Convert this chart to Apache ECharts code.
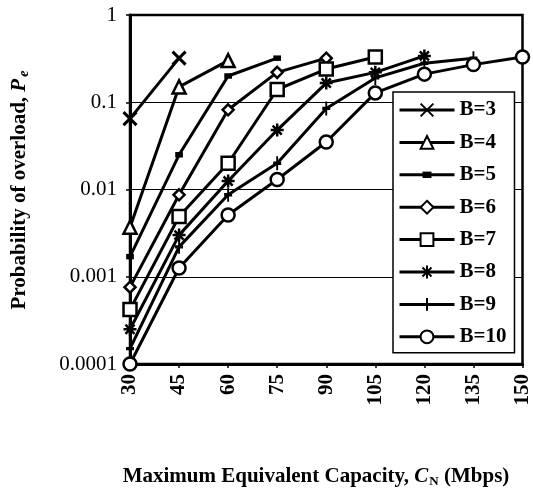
<!DOCTYPE html>
<html>
<head>
<meta charset="utf-8">
<script src="https://cdn.jsdelivr.net/npm/echarts@6/dist/echarts.min.js"></script>
<style>
html,body{margin:0;padding:0;background:#fff;}
#c{width:533px;height:489px;}
</style>
</head>
<body>
<div id="c"></div>
<script>
// Data
const xValues = [30, 45, 60, 75, 90, 105, 120, 135, 150];
const seriesNames = ['B=3', 'B=4', 'B=5', 'B=6', 'B=7', 'B=8', 'B=9', 'B=10'];
const b3 = [0.065, 0.32];
const b4 = [0.0037, 0.15, 0.30];
const b5 = [0.0017, 0.025, 0.20, 0.32];
const b6 = [0.00076, 0.0087, 0.082, 0.22, 0.32];
const b7 = [0.00042, 0.0049, 0.020, 0.14, 0.24, 0.33];
const b8 = [0.00025, 0.0030, 0.0125, 0.048, 0.166, 0.22, 0.34];
const b9 = [0.00015, 0.0022, 0.0087, 0.020, 0.085, 0.19, 0.28, 0.32];
const b10 = [0.0001, 0.00126, 0.0051, 0.013, 0.035, 0.128, 0.21, 0.27, 0.33];
const yTickLabels = ['0.0001', '0.001', '0.01', '0.1', '1'];

const allValues = [b3, b4, b5, b6, b7, b8, b9, b10];

const X_PATH = 'path://M0,0L10,10M10,0L0,10';
const STAR_PATH = 'path://M5,0L5,10M0,5L10,5M1.5,1.5L8.5,8.5M8.5,1.5L1.5,8.5';
const PLUS_PATH = 'path://M5,0L5,10M0,5L10,5';
const DASH_PATH = 'path://M0,0M10,10M1.5,2.5L8.5,2.5L8.5,7.5L1.5,7.5Z';

const symbolDefs = [
  {symbol: X_PATH, size: 13, fill: '#000', bw: 3},
  {symbol: 'triangle', size: 13, fill: '#fff', bw: 2.5},
  {symbol: DASH_PATH, size: 11, fill: '#000', bw: 0},
  {symbol: 'diamond', size: 11, fill: '#fff', bw: 2.5},
  {symbol: 'rect', size: 13, fill: '#fff', bw: 2.5},
  {symbol: STAR_PATH, size: 13, fill: '#000', bw: 2.5},
  {symbol: PLUS_PATH, size: [8, 14], fill: '#000', bw: 2.5},
  {symbol: 'circle', size: 13, fill: '#fff', bw: 2.5}
];

const series = seriesNames.map((name, i) => ({
  name: name,
  type: 'line',
  data: allValues[i].map((v, j) => [xValues[j], v]),
  symbol: symbolDefs[i].symbol,
  symbolSize: symbolDefs[i].size,
  showAllSymbol: true,
  lineStyle: {color: '#000', width: 3},
  itemStyle: {color: symbolDefs[i].fill, borderColor: '#000', borderWidth: symbolDefs[i].bw},
  z: 10 + i,
  animation: false
}));

const serif = '"Liberation Serif", "Times New Roman", serif';

const chart = echarts.init(document.getElementById('c'), null, {renderer: 'canvas'});
chart.setOption({
  backgroundColor: '#fff',
  animation: false,
  grid: {left: 130, right: 5, top: 15, bottom: 125, show: true, borderColor: '#000', borderWidth: 2.5, backgroundColor: 'transparent'},
  xAxis: {
    type: 'value', min: 30, max: 150, interval: 15,
    axisLine: {lineStyle: {color: '#000', width: 3}},
    axisTick: {show: true, length: 4, lineStyle: {color: '#000', width: 1.5}},
    axisLabel: {rotate: 90, margin: 10, color: '#000', fontFamily: serif, fontSize: 21, fontWeight: 'bold'},
    splitLine: {show: false}
  },
  yAxis: {
    type: 'log', logBase: 10, min: 0.0001, max: 1,
    axisLine: {show: true, lineStyle: {color: '#000', width: 3}},
    axisTick: {show: true, length: 4, lineStyle: {color: '#000', width: 1.5}},
    axisLabel: {
      margin: 13, color: '#000', fontFamily: serif, fontSize: 21,
      formatter: function (v) {
        const k = Math.round(Math.log10(v)) + 4;
        return yTickLabels[k] !== undefined ? yTickLabels[k] : '';
      }
    },
    splitLine: {show: true, lineStyle: {color: '#000', width: 1}}
  },
  legend: {
    orient: 'vertical',
    left: 393, top: 92,
    data: seriesNames,
    backgroundColor: '#fff',
    borderColor: '#000', borderWidth: 1.5,
    padding: [7.5, 8, 5.5, 5],
    itemWidth: 55, itemHeight: 16, itemGap: 11.4,
    lineStyle: {color: '#000', width: 3},
    textStyle: {color: '#000', fontFamily: serif, fontSize: 21, fontWeight: 'bold'},
    inactiveColor: '#000',
    selectedMode: false
  },
  graphic: [
    {
      type: 'text', x: 20, y: 190, rotation: Math.PI / 2,
      style: {
        text: '{b|Probability of overload, }{i|P}{s|e}',
        align: 'center', verticalAlign: 'middle',
        rich: {
          b: {fontFamily: serif, fontWeight: 'bold', fontSize: 21, fill: '#000'},
          i: {fontFamily: serif, fontWeight: 'bold', fontStyle: 'italic', fontSize: 21, fill: '#000'},
          s: {fontFamily: serif, fontWeight: 'bold', fontStyle: 'italic', fontSize: 14, fill: '#000', padding: [8, 0, 0, 2]}
        }
      }
    },
    {
      type: 'text', x: 316, y: 477,
      style: {
        text: '{b|Maximum Equivalent Capacity, }{i|C}{s|N}{b| (Mbps)}',
        align: 'center', verticalAlign: 'middle',
        rich: {
          b: {fontFamily: serif, fontWeight: 'bold', fontSize: 21, fill: '#000'},
          i: {fontFamily: serif, fontWeight: 'bold', fontStyle: 'italic', fontSize: 21, fill: '#000'},
          s: {fontFamily: serif, fontWeight: 'bold', fontSize: 13, fill: '#000', padding: [9, 0, 0, 1]}
        }
      }
    }
  ],
  series: series
});
</script>
</body>
</html>
